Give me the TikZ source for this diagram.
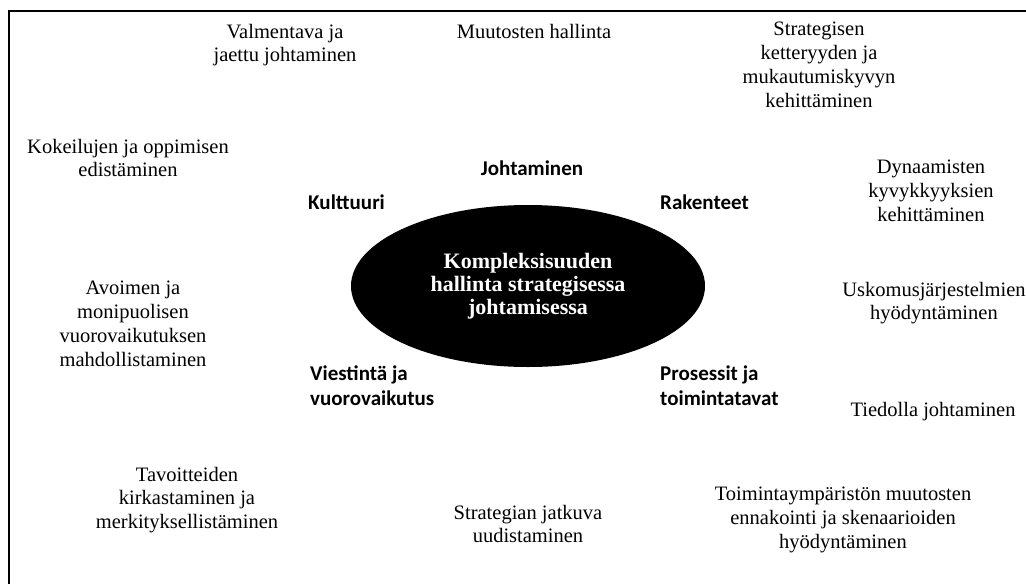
\documentclass[tikz,border=0pt]{standalone}
\usepackage{fontspec}
\setmainfont{Liberation Serif}
\newfontfamily\labelfont{Carlito}
\usetikzlibrary{shapes.geometric}
\tikzset{
  x=1pt,y=-1pt,
  theme/.style={font=\fontsize{20.5}{23.8}\selectfont, align=center, inner sep=0pt},
  dimlabel/.style={font=\labelfont\bfseries\fontsize{21}{25}\selectfont, align=left, inner sep=0pt},
  core/.style={ellipse, fill=black, minimum width=354pt, minimum height=162pt, inner sep=0pt,
    text=white, font=\bfseries\fontsize{22}{23}\selectfont, align=center},
  frameline/.style={line width=1.8pt, black}
}
\begin{document}
\begin{tikzpicture}
\useasboundingbox (0,0) rectangle (1026,584);
\coordinate (tl) at (9,11);
\coordinate (tr) at (1026,11);
\coordinate (bl) at (9,584);
\draw[frameline] (tr) -- (tl) -- (bl);

\node[core] (center) at (528,286) {Kompleksisuuden\\hallinta strategisessa\\johtamisessa};

\node[dimlabel, anchor=center] (johto) at (532,168) {Johtaminen};
\node[dimlabel, anchor=west] (kult) at (308,202) {Kulttuuri};
\node[dimlabel, anchor=west] (rak) at (660,202) {Rakenteet};
\node[dimlabel, anchor=west] (vies) at (310,386) {Viestintä ja\\vuorovaikutus};
\node[dimlabel, anchor=west] (pros) at (660,386) {Prosessit ja\\toimintatavat};

\node[theme] (valm) at (285,45) {Valmentava ja\\jaettu johtaminen};
\node[theme] (muut) at (534,31) {Muutosten hallinta};
\node[theme] (strat) at (819,65) {Strategisen\\ketteryyden ja\\mukautumiskyvyn\\kehittäminen};
\node[theme] (koke) at (128,158) {Kokeilujen ja oppimisen\\edistäminen};
\node[theme] (dyn) at (931,191) {Dynaamisten\\kyvykkyyksien\\kehittäminen};
\node[theme] (usko) at (934,303) {Uskomusjärjestelmien\\hyödyntäminen};
\node[theme] (avo) at (133,324) {Avoimen ja\\monipuolisen\\vuorovaikutuksen\\mahdollistaminen};
\node[theme] (tied) at (933,412) {Tiedolla johtaminen};
\node[theme] (toim) at (843,520) {Toimintaympäristön muutosten\\ennakointi ja skenaarioiden\\hyödyntäminen};
\node[theme] (tavo) at (187,500) {Tavoitteiden\\kirkastaminen ja\\merkityksellistäminen};
\node[theme] (uud) at (528,524) {Strategian jatkuva\\uudistaminen};
\end{tikzpicture}
\end{document}
